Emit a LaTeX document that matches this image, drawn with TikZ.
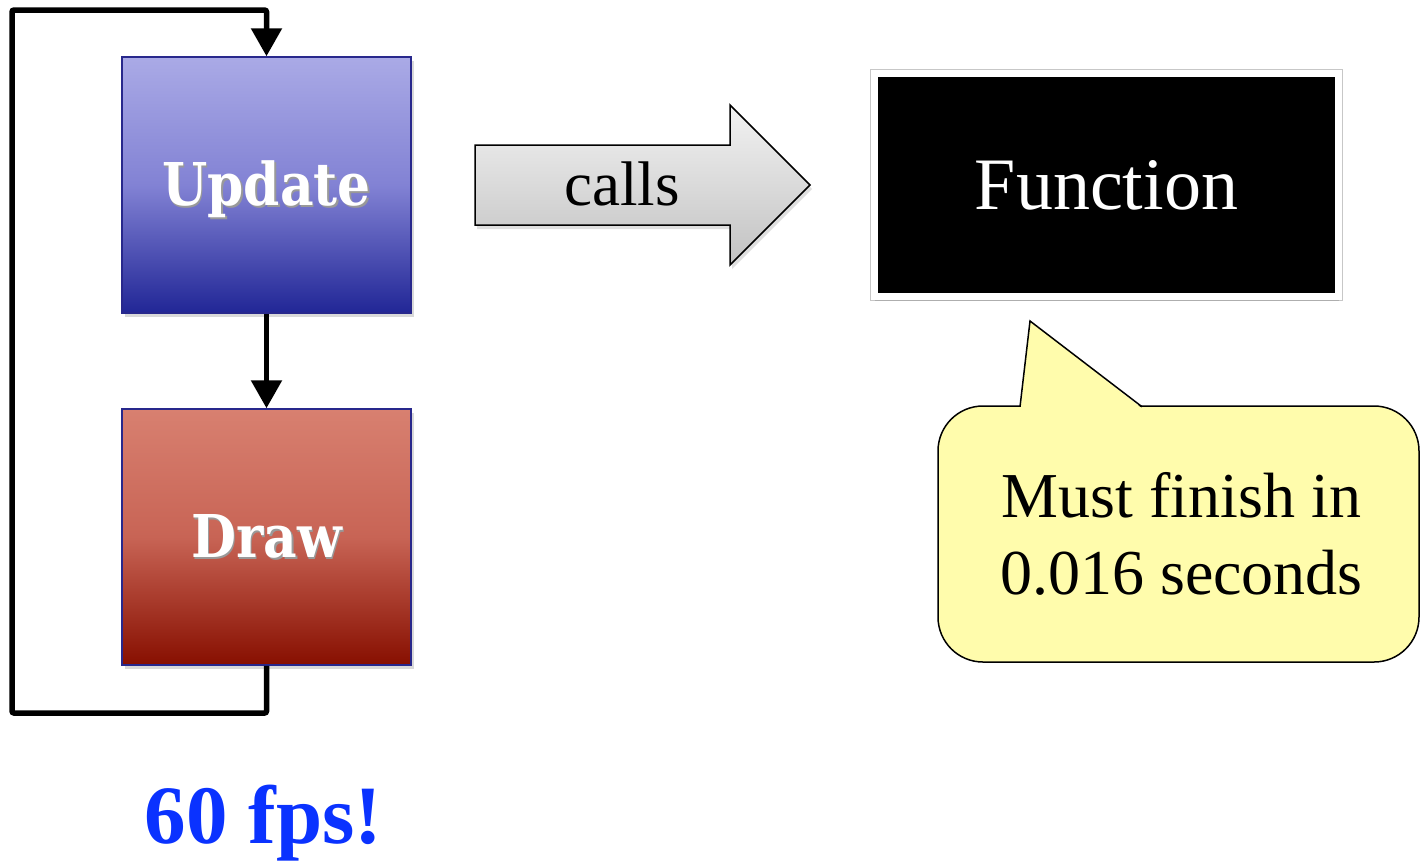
\documentclass[tikz,border=0pt]{standalone}
\usepackage{fontspec}
\setmainfont{Liberation Serif}
\newfontfamily\slabfont{DejaVu Serif}[FakeStretch=0.88]
\usetikzlibrary{arrows.meta,shadows}

\definecolor{upTop}{RGB}{170,170,230}
\definecolor{upMid}{RGB}{130,130,212}
\definecolor{upBot}{RGB}{33,38,150}
\definecolor{drTop}{RGB}{216,128,112}
\definecolor{drMid}{RGB}{200,100,85}
\definecolor{drBot}{RGB}{135,15,0}
\definecolor{boxEdge}{RGB}{40,40,140}
\definecolor{noteFill}{RGB}{255,252,172}
\definecolor{fpsBlue}{RGB}{10,50,255}

% white slab text with a soft dark offset behind it
\newcommand\shadedlabel[1]{\leavevmode\rlap{\kern1.5pt\raisebox{-2pt}{\color{black!40}#1}}#1}

\begin{document}
\begin{tikzpicture}[x=1pt,y=-1pt,
  flowbox/.style={draw=boxEdge, line width=1.5pt, minimum width=289pt,
    minimum height=256pt, inner sep=0pt, text=white,
    text height=40pt, text depth=0pt,
    font=\slabfont\bfseries\fontsize{59}{66}\selectfont,
    drop shadow={shadow xshift=3pt, shadow yshift=-4pt, opacity=.3}},
  loopline/.style={line width=5.5pt, rounded corners=2pt,
    -{Triangle[length=28pt,width=30pt]}},
  funcbox/.style={fill=black, draw=white, line width=7pt,
    minimum width=464pt, minimum height=223pt, text=white,
    font=\fontsize{74}{80}\selectfont,
    preaction={draw=black!22, line width=9pt},
    drop shadow={shadow xshift=0pt, shadow yshift=-4pt, opacity=.35}},
  notebox/.style={fill=noteFill, draw=black, line width=1.5pt,
    rounded corners=45pt, minimum width=481pt, minimum height=256pt,
    align=center, font=\fontsize{64}{77}\selectfont},
  callsarrow/.style={draw=black, line width=1.5pt,
    top color=black!5, bottom color=black!24,
    drop shadow={shadow xshift=2pt, shadow yshift=-4pt, opacity=.25}}
]
\useasboundingbox (0,0) rectangle (1420,863);

% game loop
\node[flowbox, top color=upTop, bottom color=upBot, middle color=upMid]
  (update) at (266.5,185) {\shadedlabel{Update}};
\node[flowbox, top color=drTop, bottom color=drBot, middle color=drMid]
  (draw) at (266.5,537) {\shadedlabel{Draw}};

\coordinate (lb) at (12,713);
\coordinate (lt) at (12,10);
\draw[loopline] (draw.south) |- (lb) -- (lt) -| (update.north);
\draw[loopline] (update.south) -- (draw.north);

% block arrow
\coordinate (a1) at (475,145);
\coordinate (a2) at (730,145);
\coordinate (a3) at (730,105);
\coordinate (a4) at (810,185);
\coordinate (a5) at (730,265);
\coordinate (a6) at (730,225);
\coordinate (a7) at (475,225);
\path[callsarrow] (a1) -- (a2) -- (a3) -- (a4) -- (a5) -- (a6) -- (a7) -- cycle;
\node[font=\fontsize{63}{70}\selectfont, anchor=base] (calls) at (622,205) {calls};

% function box
\node[funcbox] (func) at (1106.5,185) {Function};

% speech bubble
\node[notebox] (note) at (1178.5,534) {\hspace*{6pt}Must finish in\\\hspace*{6pt}0.016 seconds};
\coordinate (pl) at (1020,406.75);
\coordinate (tip) at (1030,321);
\coordinate (pr) at (1142,406.75);
\fill[noteFill] (1020.8,407.5) -- (tip) -- (1141,407.5) -- cycle;
\draw[line width=1.5pt, line join=miter] (pl) -- (tip) -- (pr);

% frame rate
\node[font=\bfseries\fontsize{83}{90}\selectfont, text=fpsBlue, anchor=base]
  (fps) at (263.5,843) {60 fps!};
\end{tikzpicture}
\end{document}
